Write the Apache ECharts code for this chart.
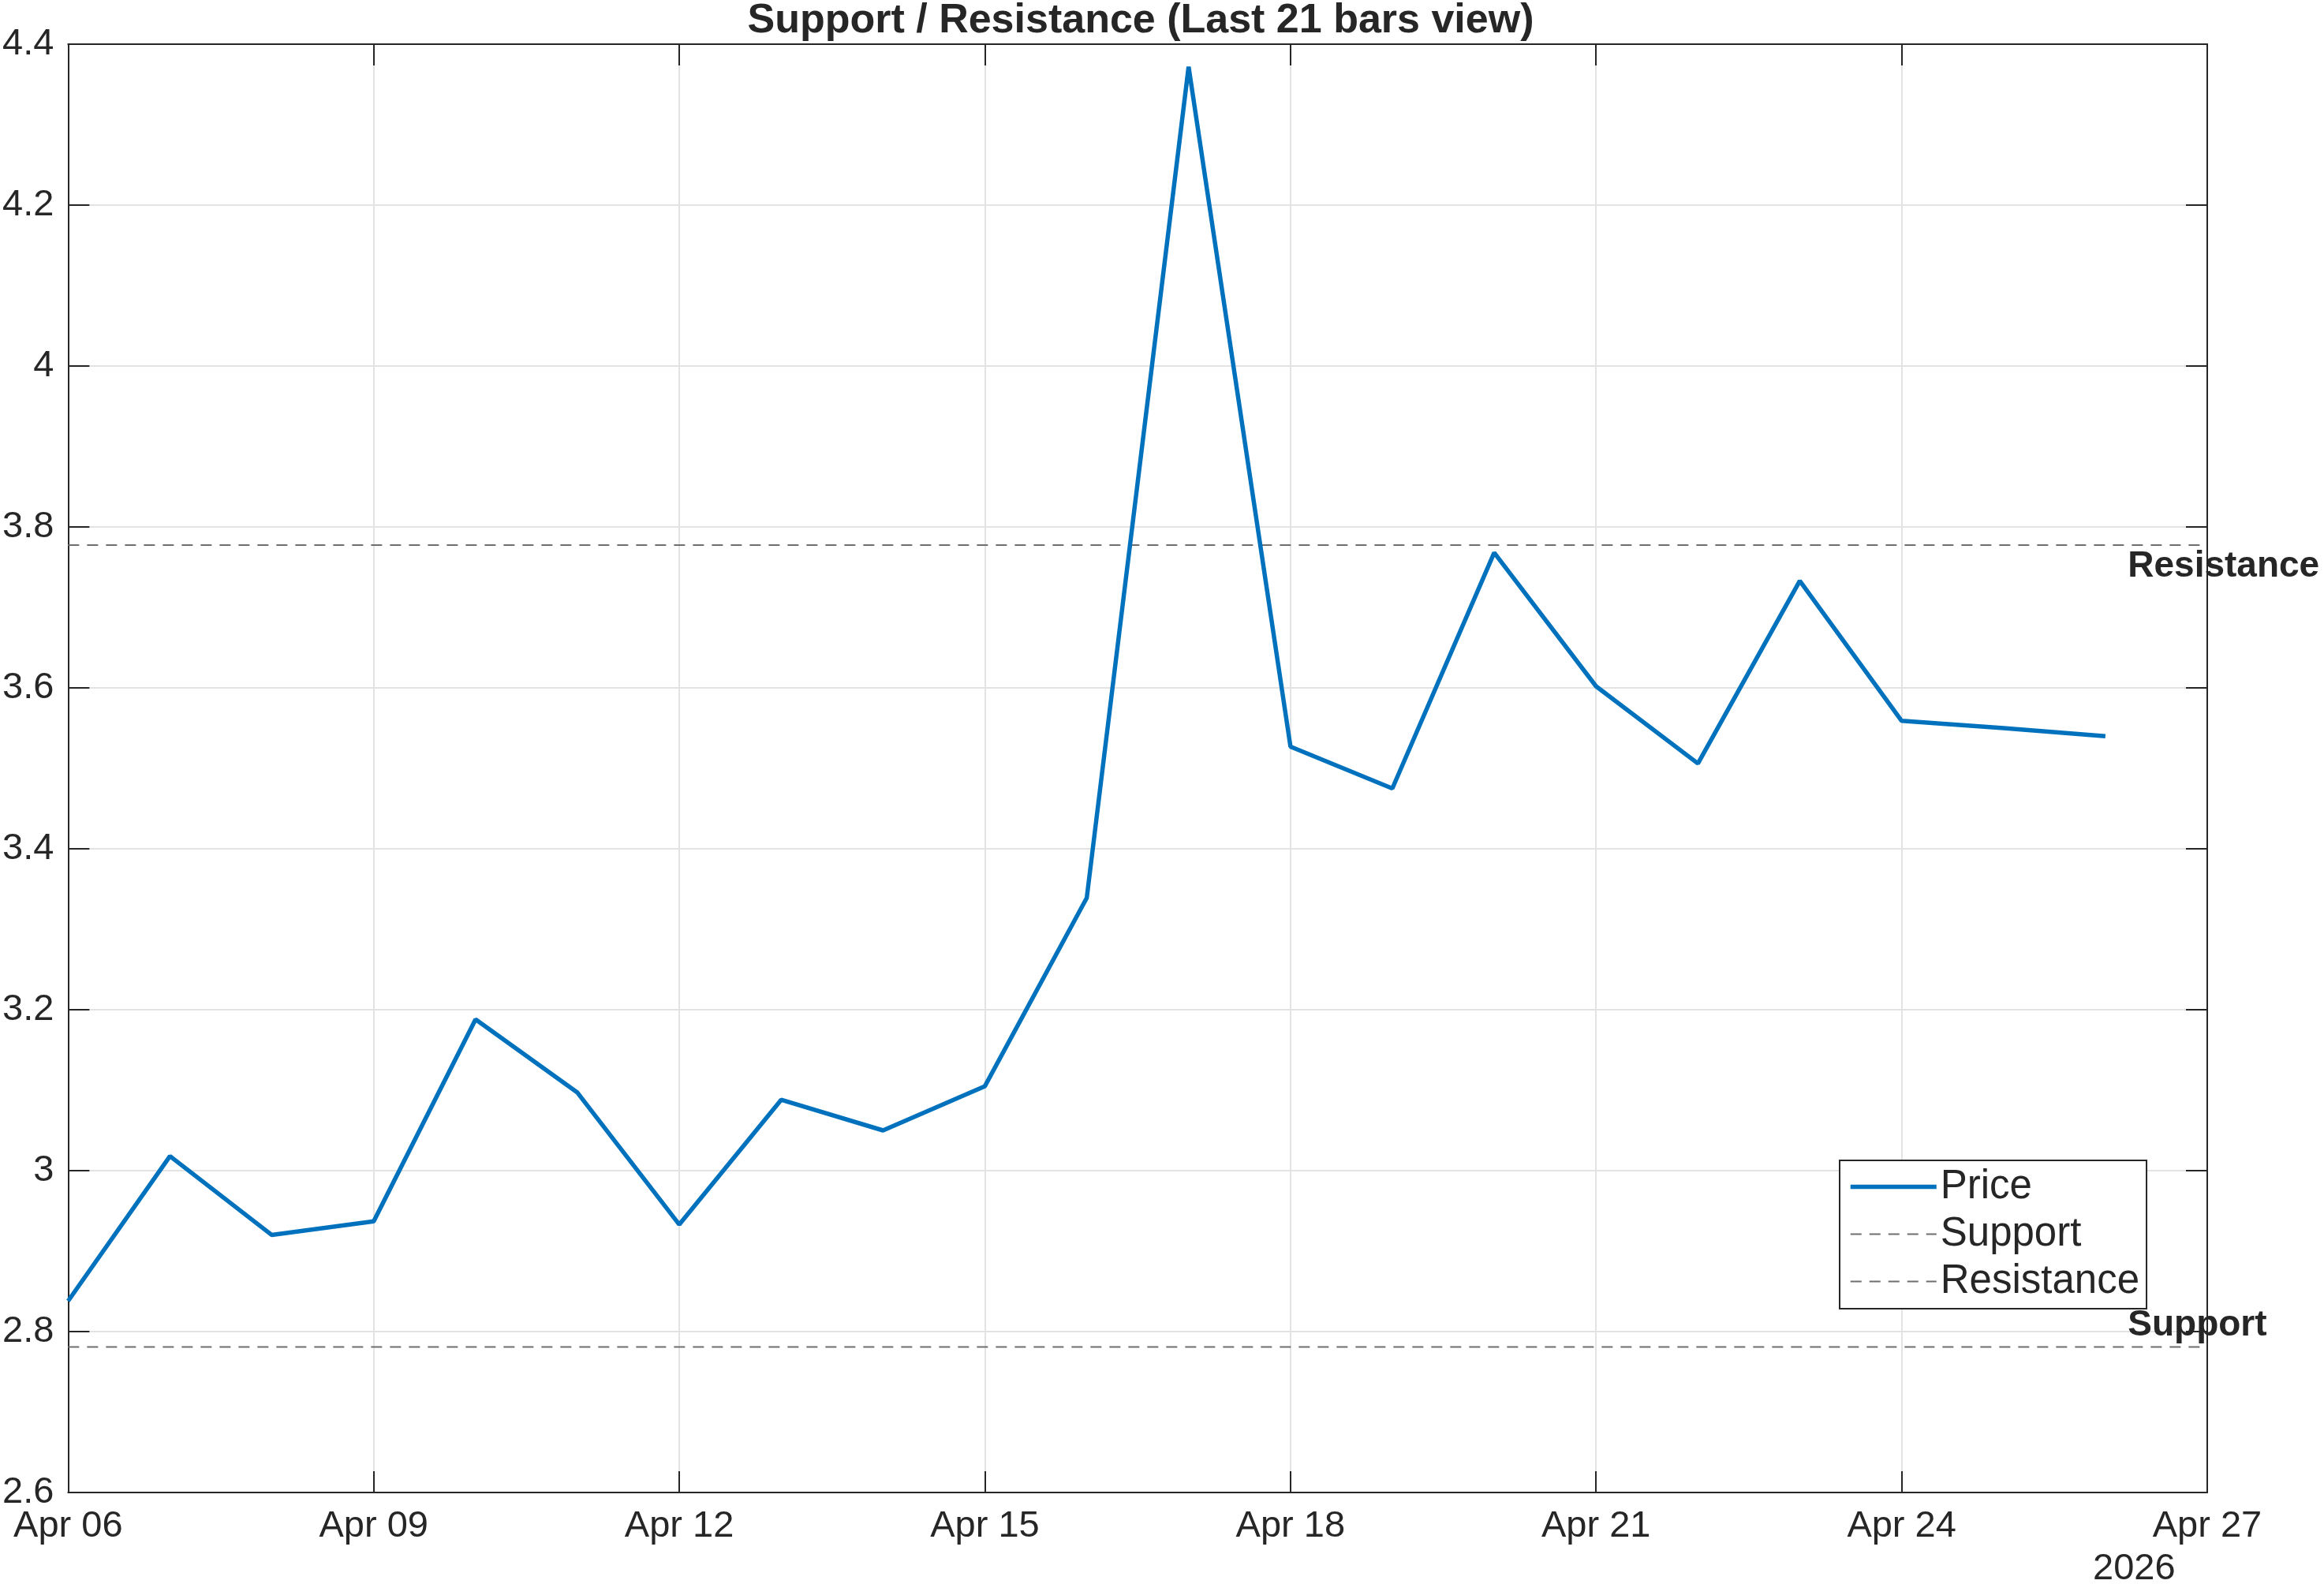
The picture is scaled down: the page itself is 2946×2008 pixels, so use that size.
<!DOCTYPE html>
<html>
<head>
<meta charset="utf-8">
<script src="https://cdn.jsdelivr.net/npm/echarts@6/dist/echarts.min.js"></script>
<style>
html,body{margin:0;padding:0;background:#fff;}
#chart{width:2946px;height:2008px;}
</style>
</head>
<body>
<div id="chart"></div>
<script>
// ---- data ----
const dates = ['Apr 06','Apr 07','Apr 08','Apr 09','Apr 10','Apr 11','Apr 12','Apr 13','Apr 14','Apr 15',
  'Apr 16','Apr 17','Apr 18','Apr 19','Apr 20','Apr 21','Apr 22','Apr 23','Apr 24','Apr 25','Apr 26'];
const prices = [2.838, 3.018, 2.920, 2.937, 3.188, 3.097, 2.933, 3.088, 3.050, 3.105,
  3.339, 4.372, 3.527, 3.475, 3.768, 3.602, 3.506, 3.733, 3.559, 3.550, 3.540];
const supportLevel = 2.781;
const resistanceLevel = 3.7775;
const xTickLabels = ['Apr 06','Apr 09','Apr 12','Apr 15','Apr 18','Apr 21','Apr 24','Apr 27'];
const yearLabel = '2026';
const titleText = 'Support / Resistance (Last 21 bars view)';
const xMin = 0, xMax = 21, xInterval = 3;
const yMin = 2.6, yMax = 4.4, yInterval = 0.2;
const labelDayOffset = 0.22;

const FONT = '"Liberation Sans", Arial, Helvetica, sans-serif';
const AX = '#262626';
const PRICE_COLOR = '#0072BD';
const LEVEL_COLOR = '#6e6e6e';

const priceData = prices.map((v, i) => [i, v]);
const lastIdx = prices.length - 1;

const chart = echarts.init(document.getElementById('chart'), null, {renderer: 'canvas'});

const tickCommon = {show: true, inside: true, length: 27, lineStyle: {color: AX, width: 2}};
const lineCommon = {show: true, onZero: false, lineStyle: {color: AX, width: 2}};

chart.setOption({
  animation: false,
  backgroundColor: '#fff',
  title: {
    text: titleText,
    left: 1441, top: -4,
    textAlign: 'center',
    textStyle: {fontFamily: FONT, fontSize: 52, fontWeight: 'bold', color: AX}
  },
  grid: {left: 85, right: 148, top: 56, bottom: 116, containLabel: false},
  legend: {
    orient: 'vertical',
    left: 2332, top: 1471,
    padding: [8, 9, 9, 11],
    itemGap: 9,
    itemWidth: 109,
    itemHeight: 14,
    borderColor: AX, borderWidth: 2,
    backgroundColor: '#fff',
    itemStyle: {opacity: 0},
    textStyle: {fontFamily: FONT, fontSize: 51, color: AX, lineHeight: 50, padding: [0, 0, 0, 0]},
    data: [
      {name: 'Price', lineStyle: {color: PRICE_COLOR, width: 5.5}},
      {name: 'Support', lineStyle: {color: LEVEL_COLOR, width: 2, type: [14, 10]}},
      {name: 'Resistance', lineStyle: {color: LEVEL_COLOR, width: 2, type: [14, 10]}}
    ]
  },
  xAxis: [{
    type: 'value', min: xMin, max: xMax, interval: xInterval,
    axisLine: lineCommon, axisTick: tickCommon,
    axisLabel: {
      fontFamily: FONT, fontSize: 47, color: AX, margin: 20,
      formatter: v => xTickLabels[Math.round((v - xMin) / xInterval)] || ''
    },
    splitLine: {show: true, lineStyle: {color: '#e3e3e3', width: 2}}
  }, {
    type: 'value', position: 'top', min: xMin, max: xMax, interval: xInterval,
    axisLine: lineCommon, axisTick: tickCommon, axisLabel: {show: false}, splitLine: {show: false}
  }],
  yAxis: [{
    type: 'value', min: yMin, max: yMax, interval: yInterval,
    axisLine: lineCommon, axisTick: tickCommon,
    axisLabel: {fontFamily: FONT, fontSize: 47, color: AX, margin: 18,
      formatter: v => String(Math.round(v * 10) / 10)},
    splitLine: {show: true, lineStyle: {color: '#e3e3e3', width: 2}}
  }, {
    type: 'value', position: 'right', min: yMin, max: yMax, interval: yInterval,
    axisLine: lineCommon, axisTick: tickCommon, axisLabel: {show: false}, splitLine: {show: false}
  }],
  series: [{
    name: 'Price', type: 'line', data: priceData,
    symbol: 'none', showSymbol: false, z: 5,
    lineStyle: {color: PRICE_COLOR, width: 5.5},
    itemStyle: {color: PRICE_COLOR}
  }, {
    name: 'Support', type: 'line', data: [[xMin, supportLevel], [xMax, supportLevel]],
    symbol: 'none', showSymbol: false, z: 3,
    lineStyle: {color: LEVEL_COLOR, width: 2, type: [14, 10]},
    itemStyle: {color: LEVEL_COLOR},
    markPoint: {
      symbol: 'circle', symbolSize: 0, silent: true,
      data: [{coord: [lastIdx + labelDayOffset, supportLevel]}],
      label: {show: true, position: 'inside', formatter: 'Support',
        align: 'left', verticalAlign: 'bottom', offset: [0, -4],
        fontFamily: FONT, fontSize: 46, fontWeight: 'bold', color: AX}
    }
  }, {
    name: 'Resistance', type: 'line', data: [[xMin, resistanceLevel], [xMax, resistanceLevel]],
    symbol: 'none', showSymbol: false, z: 3,
    lineStyle: {color: LEVEL_COLOR, width: 2, type: [14, 10]},
    itemStyle: {color: LEVEL_COLOR},
    markPoint: {
      symbol: 'circle', symbolSize: 0, silent: true,
      data: [{coord: [lastIdx + labelDayOffset, resistanceLevel]}],
      label: {show: true, position: 'inside', formatter: 'Resistance',
        align: 'left', verticalAlign: 'top', offset: [0, 4],
        fontFamily: FONT, fontSize: 46, fontWeight: 'bold', color: AX}
    }
  }],
  graphic: [{
    type: 'text', left: 2706 - 53, top: 1966,
    style: {text: yearLabel, font: '47px ' + FONT, fill: AX}
  }]
});
</script>
</body>
</html>
